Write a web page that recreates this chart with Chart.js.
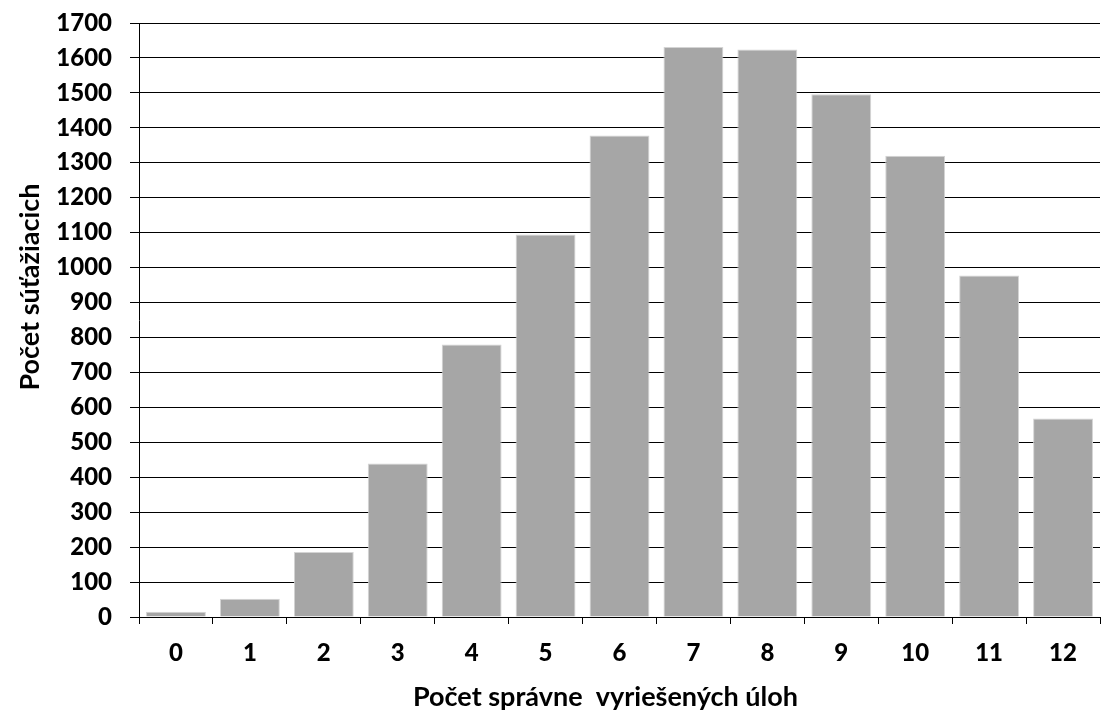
<!DOCTYPE html>
<html>
<head>
<meta charset="utf-8">
<title>Počet súťažiacich</title>
<script src="https://cdn.jsdelivr.net/npm/chart.js@4/dist/chart.umd.min.js"></script>
<style>
  html, body { margin: 0; padding: 0; background: #ffffff; }
  #wrap { width: 1104px; height: 713px; }
</style>
</head>
<body>
<div id="wrap"><canvas id="chart" width="1104" height="713"></canvas></div>
<script>
// Number of correctly solved tasks (categories) and the count of contestants for each
const categories = ['0', '1', '2', '3', '4', '5', '6', '7', '8', '9', '10', '11', '12'];
const contestants = [15, 52, 186, 439, 780, 1095, 1378, 1631, 1624, 1496, 1320, 977, 568];

const yMin = 0;
const yMax = 1700;
const yStep = 100;

const xTitle = 'Počet správne  vyriešených úloh';
const yTitle = 'Počet súťažiacich';

const tickFont = { family: 'Lato, "Open Sans", sans-serif', size: 24, weight: '900' };
const titleFontCss = 'bold 27px Lato, "Open Sans", sans-serif';

// Axis titles, placed slightly left of / above the plot centre
const axisTitles = {
  id: 'axisTitles',
  afterDraw(chart) {
    const { ctx, chartArea } = chart;
    ctx.save();
    ctx.font = titleFontCss;
    ctx.fillStyle = '#000';
    ctx.textAlign = 'center';
    ctx.textBaseline = 'middle';
    const cx = (chartArea.left + chartArea.right) / 2 - 14;
    ctx.fillText(xTitle, cx, 697);
    const cy = (chartArea.top + chartArea.bottom) / 2 - 33;
    ctx.translate(30, cy);
    ctx.rotate(-Math.PI / 2);
    ctx.fillText(yTitle, 0, 0);
    ctx.restore();
  }
};

new Chart(document.getElementById('chart'), {
  type: 'bar',
  data: {
    labels: categories,
    datasets: [{
      data: contestants,
      backgroundColor: '#a6a6a6',
      borderColor: '#d4d4d4',
      borderWidth: 1,
      barPercentage: 0.81,
      categoryPercentage: 1.0
    }]
  },
  plugins: [axisTitles],
  options: {
    responsive: false,
    animation: false,
    layout: { padding: { top: 23, right: 4, bottom: 0, left: 0 } },
    plugins: {
      legend: { display: false },
      tooltip: { enabled: false }
    },
    scales: {
      x: {
        grid: {
          display: true,
          drawOnChartArea: false,
          offset: true,
          color: '#000',
          tickColor: '#000',
          tickLength: 7,
          lineWidth: 1
        },
        border: { display: true, color: '#000', width: 1 },
        ticks: { color: '#000', font: tickFont, padding: 15, maxRotation: 0, autoSkip: false },
        afterFit: (scale) => {
          scale.height = 96;
          scale.paddingLeft = 0;
          scale.paddingRight = 0;
        }
      },
      y: {
        min: yMin,
        max: yMax,
        grid: {
          color: '#000',
          tickColor: '#000',
          tickLength: 9,
          lineWidth: 1
        },
        border: { display: true, color: '#000', width: 1 },
        ticks: {
          stepSize: yStep,
          color: '#000',
          font: tickFont,
          padding: 18,
          autoSkip: false,
          callback: (value) => String(value)
        },
        afterFit: (scale) => {
          scale.width = 139;
          scale.paddingTop = 0;
          scale.paddingBottom = 0;
        }
      }
    }
  }
});
</script>
</body>
</html>
